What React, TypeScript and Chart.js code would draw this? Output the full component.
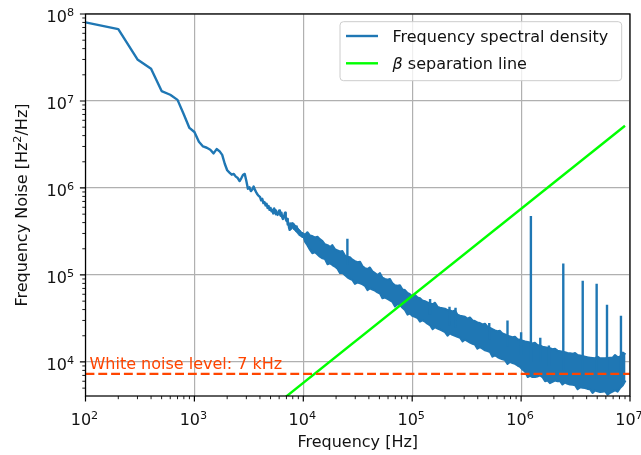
import React, { useEffect, useRef } from "react";
import { Chart, registerables } from "chart.js";
Chart.register(...registerables);

// ---- data ----
const lowFreq = [100, 200, 300, 400, 500, 600, 700, 800, 900, 1000, 1100, 1200, 1300, 1400, 1500, 1600, 1700, 1800, 1900, 2000,
  2100, 2200, 2300, 2400, 2500, 2600, 2700, 2800, 2900, 3000, 3100, 3200, 3300, 3400, 3500, 3600, 3700, 3800, 3900, 4000,
  4100, 4200, 4300, 4400, 4500, 4600, 4700, 4800, 4900, 5000, 5100, 5200, 5300, 5400, 5500, 5600, 5700, 5800, 5900, 6000,
  6100, 6200, 6300, 6400, 6500, 6600, 6700, 6800, 6900, 7000, 7100, 7200, 7300, 7400, 7500, 7600, 7700, 7800, 7900, 8000,
  8100, 8200, 8300, 8400, 8500, 8600, 8700, 8800, 8900, 9000, 9100, 9200, 9300, 9400, 9500, 9600, 9700, 9800, 9900, 10000];
const lowPsd = [8.0e7, 6.7e7, 3.0e7, 2.35e7, 1.3e7, 1.18e7, 1.03e7, 7.0e6, 4.9e6, 4.4e6, 3.4e6, 3.0e6, 2.9e6, 2.75e6, 2.5e6, 2.8e6, 2.65e6, 2.4e6, 1.9e6, 1.6e6,
  1.5e6, 1.42e6, 1.45e6, 1.35e6, 1.3e6, 1.2e6, 1.3e6, 1.42e6, 1.45e6, 1.2e6, 9.8e5, 1.02e6, 9.2e5, 9.6e5, 1.04e6, 9.5e5, 8.9e5, 8.4e5, 8.1e5, 7.9e5,
  7.2e5, 7.5e5, 6.7e5, 6.9e5, 6.3e5, 6.6e5, 5.9e5, 6.2e5, 5.6e5, 5.9e5, 5.4e5, 5.6e5, 5.1e5, 5.8e5, 5.5e5, 5.0e5, 5.2e5, 4.9e5, 5.3e5, 5.5e5,
  5.0e5, 4.8e5, 5.2e5, 4.6e5, 4.4e5, 4.7e5, 4.9e5, 5.2e5, 4.4e5, 4.2e5, 4.4e5, 3.8e5, 4.0e5, 3.5e5, 3.3e5, 3.4e5, 3.9e5, 3.6e5, 3.9e5, 3.5e5,
  3.8e5, 3.4e5, 3.7e5, 3.3e5, 3.6e5, 3.2e5, 3.6e5, 3.1e5, 3.4e5, 3.0e5, 3.3e5, 2.9e5, 3.2e5, 2.85e5, 3.1e5, 2.8e5, 3.05e5, 2.75e5, 3.0e5, 2.8e5];

const bandFreq = [1.0e4, 1.02e4, 1.04e4, 1.09e4, 1.15e4, 1.21e4, 1.28e4, 1.35e4, 1.42e4, 1.5e4, 1.58e4, 1.67e4, 1.76e4, 1.85e4, 1.95e4, 2.06e4,
  2.17e4, 2.29e4, 2.42e4, 2.54e4, 2.68e4, 2.83e4, 2.98e4, 3.15e4, 3.32e4, 3.5e4, 3.68e4, 3.88e4, 4.09e4, 4.31e4, 4.55e4, 4.8e4,
  5.06e4, 5.33e4, 5.62e4, 5.93e4, 6.25e4, 6.59e4, 6.95e4, 7.33e4, 7.72e4, 8.14e4, 8.58e4, 9.05e4, 9.54e4, 1.0e5, 1.06e5, 1.12e5,
  1.18e5, 1.24e5, 1.31e5, 1.38e5, 1.46e5, 1.54e5, 1.62e5, 1.71e5, 1.8e5, 1.9e5, 2.0e5, 2.11e5, 2.22e5, 2.34e5, 2.47e5, 2.6e5,
  2.75e5, 2.9e5, 3.05e5, 3.22e5, 3.39e5, 3.58e5, 3.77e5, 3.97e5, 4.19e5, 4.42e5, 4.66e5, 4.91e5, 5.18e5, 5.46e5, 5.76e5, 6.07e5,
  6.4e5, 6.75e5, 7.11e5, 7.5e5, 7.9e5, 8.33e5, 8.79e5, 9.27e5, 9.77e5, 1.03e6, 1.09e6, 1.15e6, 1.21e6, 1.27e6, 1.34e6, 1.41e6,
  1.49e6, 1.57e6, 1.66e6, 1.75e6, 1.84e6, 1.94e6, 2.05e6, 2.16e6, 2.28e6, 2.4e6, 2.53e6, 2.67e6, 2.81e6, 2.97e6, 3.13e6, 3.3e6,
  3.48e6, 3.67e6, 3.86e6, 4.07e6, 4.29e6, 4.53e6, 4.77e6, 5.03e6, 5.31e6, 5.6e6, 5.9e6, 6.22e6, 6.56e6, 6.92e6, 7.29e6, 7.69e6,
  8.1e6, 8.6e6, 9.1e6];
const bandHi = [2.8e5, 2.95e5, 2.9e5, 3.1e5, 2.85e5, 2.8e5, 2.7e5, 2.75e5, 2.58e5, 2.45e5, 2.25e5, 2.2e5, 2.1e5, 2.2e5, 1.98e5, 1.92e5,
  1.86e5, 1.88e5, 1.66e5, 1.62e5, 1.6e5, 1.5e5, 1.44e5, 1.4e5, 1.42e5, 1.26e5, 1.2e5, 1.17e5, 1.22e5, 1.1e5, 1.05e5, 1.0e5,
  1.05e5, 9.3e4, 9.0e4, 8.8e4, 9.0e4, 8.0e4, 7.6e4, 7.5e4, 7.6e4, 6.8e4, 6.7e4, 6.2e4, 6.0e4, 5.7e4, 5.9e4, 5.5e4,
  5.4e4, 5.1e4, 5.0e4, 4.85e4, 4.7e4, 4.6e4, 4.8e4, 4.3e4, 4.2e4, 4.15e4, 4.1e4, 3.95e4, 3.9e4, 3.8e4, 3.9e4, 3.5e4,
  3.4e4, 3.35e4, 3.3e4, 3.15e4, 3.25e4, 3.0e4, 2.95e4, 2.85e4, 2.8e4, 2.7e4, 2.75e4, 2.55e4, 2.47e4, 2.38e4, 2.3e4, 2.25e4,
  2.28e4, 2.12e4, 2.07e4, 2.0e4, 1.96e4, 1.92e4, 1.95e4, 1.83e4, 1.8e4, 1.76e4, 1.72e4, 1.7e4, 1.67e4, 1.63e4, 1.66e4, 1.57e4,
  1.55e4, 1.5e4, 1.48e4, 1.46e4, 1.44e4, 1.4e4, 1.42e4, 1.35e4, 1.33e4, 1.31e4, 1.29e4, 1.27e4, 1.26e4, 1.24e4, 1.27e4, 1.2e4,
  1.19e4, 1.17e4, 1.15e4, 1.13e4, 1.12e4, 1.11e4, 1.1e4, 1.15e4, 1.1e4, 1.1e4, 1.1e4, 1.11e4, 1.12e4, 1.12e4, 1.2e4, 1.14e4,
  1.15e4, 1.28e4, 1.22e4];
const bandLo = [2.8e5, 2.6e5, 2.4e5, 2.2e5, 1.95e5, 1.78e5, 1.82e5, 1.72e5, 1.62e5, 1.55e5, 1.52e5, 1.33e5, 1.36e5, 1.3e5, 1.25e5, 1.18e5,
  1.05e5, 1.06e5, 9.9e4, 9.4e4, 9.0e4, 8.7e4, 7.9e4, 8.2e4, 8.0e4, 7.8e4, 7.5e4, 6.7e4, 7.0e4, 6.8e4, 6.6e4, 6.3e4,
  6.1e4, 5.4e4, 5.5e4, 5.3e4, 5.1e4, 4.9e4, 4.35e4, 4.6e4, 4.5e4, 4.2e4, 3.95e4, 3.5e4, 3.6e4, 3.4e4, 3.3e4, 3.2e4,
  2.9e4, 3.0e4, 2.9e4, 2.75e4, 2.64e4, 2.38e4, 2.5e4, 2.42e4, 2.35e4, 2.28e4, 2.2e4, 2.0e4, 2.13e4, 2.05e4, 2.0e4, 1.95e4,
  1.9e4, 1.72e4, 1.8e4, 1.73e4, 1.67e4, 1.62e4, 1.58e4, 1.42e4, 1.48e4, 1.42e4, 1.36e4, 1.33e4, 1.3e4, 1.15e4, 1.19e4, 1.14e4,
  1.1e4, 1.07e4, 1.05e4, 9.5e3, 1.0e4, 9.7e3, 9.5e3, 9.1e3, 8.8e3, 8.2e3, 7.7e3, 6.7e3, 6.9e3, 6.7e3, 6.7e3, 6.8e3,
  7.0e3, 6.7e3, 6.0e3, 6.1e3, 5.7e3, 5.9e3, 6.1e3, 6.0e3, 6.0e3, 5.5e3, 5.8e3, 5.6e3, 5.5e3, 5.45e3, 5.4e3, 4.85e3,
  5.1e3, 5.05e3, 5.0e3, 4.9e3, 4.85e3, 4.4e3, 4.7e3, 4.6e3, 4.5e3, 4.55e3, 4.6e3, 4.2e3, 4.4e3, 4.55e3, 4.7e3, 4.55e3,
  5.0e3, 5.4e3, 6.1e3];

const spikeFreq = [2.54e4, 1.46e5, 2.2e5, 2.5e5, 5.1e5, 7.5e5, 1.0e6, 1.23e6, 1.5e6, 1.8e6, 2.44e6, 3.68e6, 4.94e6, 6.15e6, 8.26e6];
const spikeTop = [2.6e5, 5.3e4, 4.3e4, 4.2e4, 2.8e4, 3.0e4, 2.2e4, 4.77e5, 1.9e4, 1.55e4, 1.35e5, 8.6e4, 7.9e4, 4.56e4, 3.4e4];
const spikeBase = [1.3e5, 3.5e4, 2.6e4, 2.5e4, 1.8e4, 1.5e4, 1.2e4, 1.0e4, 1.0e4, 9.0e3, 8.0e3, 7.0e3, 6.5e3, 6.5e3, 6.5e3];

const betaFreq = [6000, 9.0e6];
const betaPsd = [3.45e3, 5.2e6];

const whiteNoiseLevel = 7300;
const whiteNoiseLabel = "White noise level: 7 kHz";

const xMajorTicks = [1e2, 1e3, 1e4, 1e5, 1e6, 1e7];
const xTickExponents = ["2", "3", "4", "5", "6", "7"];
const yMajorTicks = [1e4, 1e5, 1e6, 1e7, 1e8];
const yTickExponents = ["4", "5", "6", "7", "8"];
const minorMultipliers = [2, 3, 4, 5, 6, 7, 8, 9];

const X_MIN = 100, X_MAX = 1e7, Y_MIN = 4060, Y_MAX = 1e8;

const seriesLabels = ["Frequency spectral density", "separation line"];
const xTitle = "Frequency [Hz]";

const FONT = "'DejaVu Sans', sans-serif";
const BLUE = "#1f77b4";
const GREEN = "#00ff00";
const ORANGE = "#ff4500";

function minorTicks(min: number, max: number) {
  const out: number[] = [];
  for (let e = -1; e <= 9; e++) {
    for (const m of minorMultipliers) {
      const v = m * Math.pow(10, e);
      if (v > min && v < max) out.push(v);
    }
  }
  return out;
}

function drawPow(ctx: CanvasRenderingContext2D, exp: string, x: number, y: number, align: string) {
  ctx.font = `16px ${FONT}`;
  const w1 = ctx.measureText("10").width;
  ctx.font = `11.2px ${FONT}`;
  const w2 = ctx.measureText(exp).width;
  const total = w1 + w2;
  const x0 = align === "center" ? x - total / 2 : x - total;
  ctx.textAlign = "left";
  ctx.textBaseline = "alphabetic";
  ctx.font = `16px ${FONT}`;
  ctx.fillText("10", x0, y);
  ctx.font = `11.2px ${FONT}`;
  ctx.fillText(exp, x0 + w1, y - 6);
}

const decorPlugin = {
  id: "decor",
  afterDraw(chart: any) {
    const ctx: CanvasRenderingContext2D = chart.ctx;
    const ca = chart.chartArea;
    const xs = chart.scales.x;
    const ys = chart.scales.y;
    ctx.save();

    // annotation text
    ctx.fillStyle = ORANGE;
    ctx.font = `16px ${FONT}`;
    ctx.textAlign = "left";
    ctx.textBaseline = "alphabetic";
    ctx.fillText(whiteNoiseLabel, ca.left + 4, ys.getPixelForValue(whiteNoiseLevel) - 5);

    // spines
    ctx.strokeStyle = "#000";
    ctx.lineWidth = 1.25;
    ctx.strokeRect(ca.left, ca.top, ca.right - ca.left, ca.bottom - ca.top);

    // ticks
    ctx.lineWidth = 1.2;
    ctx.beginPath();
    for (const v of xMajorTicks) {
      const px = xs.getPixelForValue(v);
      ctx.moveTo(px, ca.bottom); ctx.lineTo(px, ca.bottom + 5.6);
    }
    for (const v of yMajorTicks) {
      const py = ys.getPixelForValue(v);
      ctx.moveTo(ca.left, py); ctx.lineTo(ca.left - 5.6, py);
    }
    ctx.stroke();
    ctx.lineWidth = 0.9;
    ctx.beginPath();
    for (const v of minorTicks(X_MIN, X_MAX)) {
      const px = xs.getPixelForValue(v);
      ctx.moveTo(px, ca.bottom); ctx.lineTo(px, ca.bottom + 3.2);
    }
    for (const v of minorTicks(Y_MIN, Y_MAX)) {
      const py = ys.getPixelForValue(v);
      ctx.moveTo(ca.left, py); ctx.lineTo(ca.left - 3.2, py);
    }
    ctx.stroke();

    // tick labels
    ctx.fillStyle = "#111";
    xMajorTicks.forEach((v, i) => {
      drawPow(ctx, xTickExponents[i], xs.getPixelForValue(v) - 1, ca.bottom + 28.5, "center");
    });
    yMajorTicks.forEach((v, i) => {
      drawPow(ctx, yTickExponents[i], ca.left - 11.5, ys.getPixelForValue(v) + 8.3, "right");
    });

    // x title
    ctx.font = `16px ${FONT}`;
    ctx.textAlign = "center";
    ctx.fillText(xTitle, (ca.left + ca.right) / 2, 447);

    // y title with superscript
    ctx.save();
    ctx.translate(26.5, (ca.top + ca.bottom) / 2);
    ctx.rotate(-Math.PI / 2);
    const parts = [
      { t: "Frequency Noise [Hz", f: `16px ${FONT}`, dy: 0 },
      { t: "2", f: `11.2px ${FONT}`, dy: -6 },
      { t: "/Hz]", f: `16px ${FONT}`, dy: 0 },
    ];
    let tw = 0;
    for (const p of parts) { ctx.font = p.f; tw += ctx.measureText(p.t).width; }
    let cx = -tw / 2;
    ctx.textAlign = "left";
    for (const p of parts) {
      ctx.font = p.f;
      ctx.fillText(p.t, cx, p.dy);
      cx += ctx.measureText(p.t).width;
    }
    ctx.restore();

    // legend
    const lx = 340, ly = 21.7, lw = 281.7, lh = 59;
    ctx.beginPath();
    ctx.roundRect(lx, ly, lw, lh, 3.5);
    ctx.fillStyle = "rgba(255,255,255,0.8)";
    ctx.fill();
    ctx.strokeStyle = "#cccccc";
    ctx.lineWidth = 1;
    ctx.stroke();
    ctx.lineWidth = 2.4;
    ctx.lineCap = "butt";
    ctx.strokeStyle = BLUE;
    ctx.beginPath(); ctx.moveTo(346, 36); ctx.lineTo(378, 36); ctx.stroke();
    ctx.strokeStyle = GREEN;
    ctx.beginPath(); ctx.moveTo(346, 63.3); ctx.lineTo(378, 63.3); ctx.stroke();
    ctx.fillStyle = "#111";
    ctx.textAlign = "left";
    ctx.font = `16px ${FONT}`;
    ctx.fillText(seriesLabels[0], 392.5, 41.7);
    ctx.font = `italic 16px ${FONT}`;
    ctx.fillText("β", 392.5, 69);
    const bw = ctx.measureText("β").width;
    ctx.font = `16px ${FONT}`;
    ctx.fillText(" " + seriesLabels[1], 392.5 + bw, 69);

    ctx.restore();
  },
};

export default function App() {
  const ref = useRef<HTMLCanvasElement | null>(null);
  useEffect(() => {
    if (!ref.current) return;
    const pts = (xs: number[], ys: number[]) => xs.map((x, i) => ({ x, y: ys[i] }));
    const spikes: any[] = [];
    spikeFreq.forEach((f, i) => {
      spikes.push({ x: f, y: spikeBase[i] }, { x: f, y: spikeTop[i] }, { x: f, y: null });
    });
    const common = { pointRadius: 0, borderJoinStyle: "round" as const, tension: 0 };
    const chart = new Chart(ref.current, {
      type: "line",
      data: {
        datasets: [
          { ...common, data: pts([X_MIN, X_MAX], [whiteNoiseLevel, whiteNoiseLevel]), borderColor: ORANGE, borderWidth: 2.4, borderDash: [8.9, 3.9], fill: false, order: 0 },
          { ...common, data: pts(betaFreq, betaPsd), borderColor: GREEN, borderWidth: 2.4, fill: false, order: 1 },
          { ...common, data: pts(lowFreq, lowPsd), borderColor: BLUE, borderWidth: 2.4, fill: false, order: 2 },
          { ...common, data: pts(bandFreq, bandHi), borderColor: BLUE, borderWidth: 2, fill: false, order: 3 },
          { ...common, data: pts(bandFreq, bandLo), borderColor: BLUE, backgroundColor: BLUE, borderWidth: 2, fill: 3, order: 4 },
          { ...common, data: spikes, borderColor: BLUE, borderWidth: 2.4, borderCapStyle: "butt", spanGaps: false, fill: false, order: 2 },
        ],
      },
      options: {
        animation: false,
        responsive: false,
        devicePixelRatio: 1,
        layout: { padding: { top: 14, right: 11, left: 0, bottom: 0 } },
        plugins: { legend: { display: false }, tooltip: { enabled: false } },
        scales: {
          x: {
            type: "logarithmic",
            min: X_MIN,
            max: X_MAX,
            afterBuildTicks: (s: any) => { s.ticks = xMajorTicks.map((v) => ({ value: v })); },
            afterFit: (s: any) => { s.height = 59; },
            ticks: { display: false },
            grid: { color: "#b0b0b0", lineWidth: 1.2, drawTicks: false },
            border: { display: false },
          },
          y: {
            type: "logarithmic",
            min: Y_MIN,
            max: Y_MAX,
            afterBuildTicks: (s: any) => { s.ticks = yMajorTicks.map((v) => ({ value: v })); },
            afterFit: (s: any) => { s.width = 85.5; },
            ticks: { display: false },
            grid: { color: "#b0b0b0", lineWidth: 1.2, drawTicks: false },
            border: { display: false },
          },
        },
      },
      plugins: [decorPlugin],
    } as any);
    return () => chart.destroy();
  }, []);
  return (
    <div style={{ position: "fixed", left: 0, top: 0, width: 641, height: 455, background: "#fff" }}>
      <canvas ref={ref} width={641} height={455} style={{ display: "block" }} />
    </div>
  );
}
